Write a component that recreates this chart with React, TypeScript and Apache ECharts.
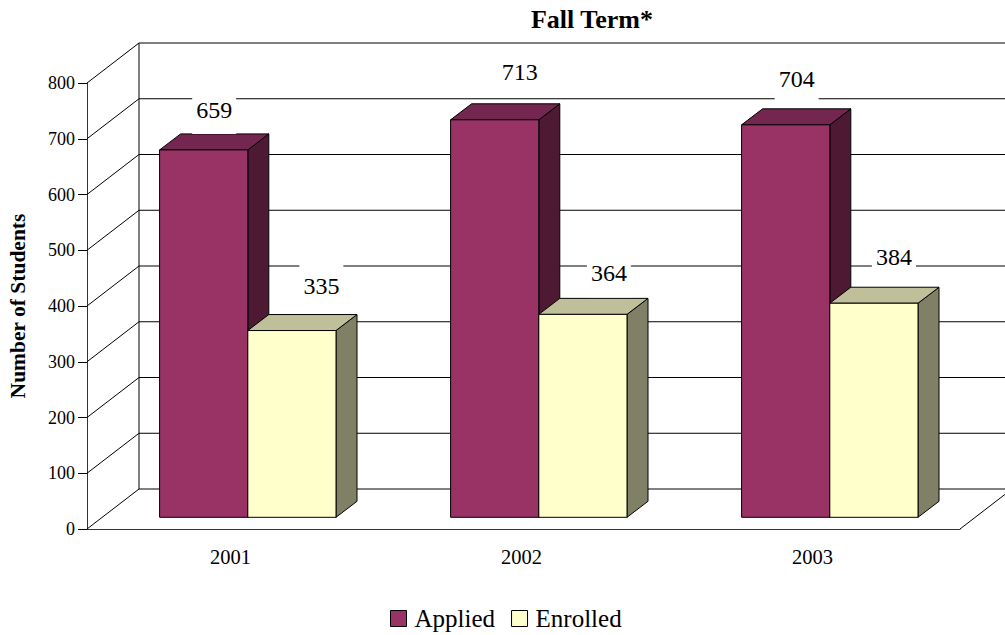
import React, { useEffect, useRef } from "react";
import * as echarts from "echarts";

const categories = ["2001", "2002", "2003"];
const applied = [659, 713, 704];
const enrolled = [335, 364, 384];
const yTicks = [0, 100, 200, 300, 400, 500, 600, 700, 800];

// styling only: where each value label sits relative to its bar top
const appliedLabelNudge = [[10.5, -40], [25, -47.5], [11, -45.5]];
const enrolledLabelNudge = [[29.5, -45], [26, -41], [20, -46]];

const FONT = '"Liberation Serif", "Times New Roman", serif';
const BAR_W = 88.2;
const SHIFT = [15.3, -11.7];
const DEPTH = [21, -16];
const WALL = [52, -40];

function barRenderer(side: number, colors: string[], nudges: number[][]) {
  return (params: any, api: any) => {
    const i = params.dataIndex;
    const v = api.value(1);
    const top = api.coord([api.value(0), v]);
    const base = api.coord([api.value(0), 0]);
    const x0 = top[0] + SHIFT[0] + (side < 0 ? -BAR_W : 0);
    const x1 = x0 + BAR_W;
    const yT = top[1] + SHIFT[1];
    const yB = base[1] + SHIFT[1];
    const [dx, dy] = DEPTH;
    const edge = { stroke: "#000", lineWidth: 1, lineJoin: "round" };
    return {
      type: "group",
      children: [
        {
          type: "polygon",
          shape: { points: [[x1, yT], [x1 + dx, yT + dy], [x1 + dx, yB + dy], [x1, yB]] },
          style: { fill: colors[2], ...edge },
        },
        {
          type: "polygon",
          shape: { points: [[x0, yT], [x0 + dx, yT + dy], [x1 + dx, yT + dy], [x1, yT]] },
          style: { fill: colors[1], ...edge },
        },
        {
          type: "rect",
          shape: { x: x0, y: yT, width: BAR_W, height: yB - yT },
          style: { fill: colors[0], ...edge },
        },
        {
          type: "rect",
          shape: {
            x: (x0 + x1) / 2 + nudges[i][0] - 22,
            y: yT + nudges[i][1] - 24,
            width: 44,
            height: 48,
          },
          style: { fill: "#fff" },
        },
        {
          type: "text",
          x: (x0 + x1) / 2 + nudges[i][0],
          y: yT + nudges[i][1],
          style: {
            text: String(v),
            font: `24px ${FONT}`,
            fill: "#000",
            align: "center",
            verticalAlign: "middle",
          },
        },
      ],
    };
  };
}

function wallRenderer(params: any, api: any) {
  const v = api.value(0);
  const left = api.coord([0, v]);
  const w = params.coordSys;
  const xL = w.x;
  const xR = w.x + w.width;
  const y = left[1];
  const stroke = { stroke: "#000", lineWidth: 1 };
  const children: any[] = [
    {
      type: "line",
      shape: { x1: xL, y1: y, x2: xL + WALL[0], y2: y + WALL[1] },
      style: stroke,
    },
    {
      type: "line",
      shape: { x1: xL + WALL[0], y1: y + WALL[1], x2: xR + WALL[0], y2: y + WALL[1] },
      style: stroke,
    },
  ];
  if (v === 0) {
    children.push({
      type: "line",
      shape: { x1: xR, y1: y, x2: xR + WALL[0], y2: y + WALL[1] },
      style: stroke,
    });
    children.push({
      type: "line",
      shape: { x1: xL + WALL[0], y1: y + WALL[1], x2: xL + WALL[0], y2: w.y + WALL[1] },
      style: stroke,
    });
  }
  return { type: "group", children };
}

export default function App() {
  const ref = useRef<HTMLDivElement>(null);
  useEffect(() => {
    document.body.style.margin = "0";
    const chart = echarts.init(ref.current!, undefined, { renderer: "svg" });
    chart.setOption({
      animation: false,
      backgroundColor: "#fff",
      title: {
        text: "Fall Term*",
        left: 587,
        top: 1,
        textAlign: "center",
        textStyle: { fontFamily: FONT, fontSize: 26, fontWeight: "bold", color: "#000" },
      },
      grid: { left: 87, top: 83, width: 873, height: 446, outerBoundsMode: "none" },
      xAxis: {
        type: "category",
        data: categories,
        boundaryGap: true,
        axisLine: { lineStyle: { color: "#333", width: 1 } },
        axisTick: { alignWithLabel: false, length: 9, lineStyle: { color: "#000" } },
        axisLabel: { fontFamily: FONT, fontSize: 20.5, color: "#000", margin: 17, padding: [0, 4, 0, 0] },
      },
      yAxis: {
        type: "value",
        min: 0,
        max: 800,
        interval: 100,
        name: "Number of Students",
        nameLocation: "middle",
        nameGap: 58,
        nameTextStyle: { fontFamily: FONT, fontSize: 21.5, fontWeight: "bold", color: "#000" },
        axisLine: { show: true, lineStyle: { color: "#333", width: 1 } },
        axisTick: { show: true, length: 9, lineStyle: { color: "#000" } },
        axisLabel: { fontFamily: FONT, fontSize: 18, color: "#000", margin: 12 },
        splitLine: { show: false },
      },
      legend: {
        data: [
          { name: "Applied", itemStyle: { color: "#993366", borderColor: "#000", borderWidth: 1 } },
          { name: "Enrolled", itemStyle: { color: "#FFFFCC", borderColor: "#000", borderWidth: 1 } },
        ],
        left: 390,
        top: 606,
        padding: 0,
        icon: "rect",
        itemWidth: 16,
        itemHeight: 16,
        itemGap: 16,
        textStyle: { fontFamily: FONT, fontSize: 25, color: "#000", padding: [0, 0, 0, 3] },
      },
      series: [
        {
          type: "custom",
          name: "walls",
          silent: true,
          clip: false,
          coordinateSystem: "cartesian2d",
          encode: { y: 0 },
          data: yTicks.map((t) => [t]),
          renderItem: wallRenderer,
          z: 1,
        },
        {
          type: "custom",
          name: "Applied",
          clip: false,
          encode: { x: 0, y: 1 },
          data: applied.map((v, i) => [i, v]),
          itemStyle: { color: "#993366" },
          renderItem: barRenderer(-1, ["#993366", "#732650", "#4D1933"], appliedLabelNudge),
          z: 3,
        },
        {
          type: "custom",
          name: "Enrolled",
          clip: false,
          encode: { x: 0, y: 1 },
          data: enrolled.map((v, i) => [i, v]),
          itemStyle: { color: "#FFFFCC" },
          renderItem: barRenderer(1, ["#FFFFCC", "#BFBF99", "#808066"], enrolledLabelNudge),
          z: 4,
        },
      ],
    });
    return () => chart.dispose();
  }, []);
  return <div ref={ref} style={{ width: 1005, height: 635 }} />;
}
